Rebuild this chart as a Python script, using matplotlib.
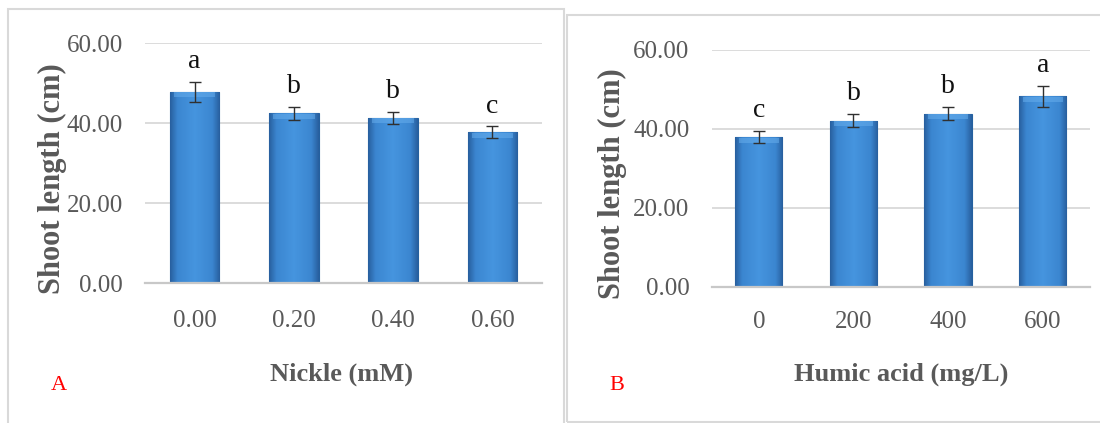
import numpy as np
import matplotlib
matplotlib.use("Agg")
import matplotlib.pyplot as plt
from matplotlib.patches import Rectangle
from matplotlib.colors import LinearSegmentedColormap

# panel A: nickel levels
nickel_labels = ["0.00", "0.20", "0.40", "0.60"]
nickel_means = [47.9, 42.5, 41.4, 37.8]
nickel_err = [2.5, 1.6, 1.5, 1.4]
nickel_letters = ["a", "b", "b", "c"]

# panel B: humic acid levels
humic_labels = ["0", "200", "400", "600"]
humic_means = [37.9, 42.1, 43.9, 48.3]
humic_err = [1.5, 1.7, 1.7, 2.7]
humic_letters = ["c", "b", "b", "a"]

W, H = 1100, 423
SERIF = ["Liberation Serif", "DejaVu Serif"]
GREY = "#595959"

bar_cmap = LinearSegmentedColormap.from_list(
    "barblue", [(0.0, "#285f9e"), (0.15, "#3b86d0"), (0.5, "#4695df"),
                (0.85, "#3b86d0"), (1.0, "#285f9e")])


def px(x, y):
    return x / W, 1 - y / H


def gradient_bars(ax, bars):
    grad = np.linspace(0, 1, 128).reshape(1, -1)
    for b in bars:
        x0, y0 = b.get_x(), b.get_y()
        w, h = b.get_width(), b.get_height()
        im = ax.imshow(grad, cmap=bar_cmap, aspect="auto",
                       extent=(x0, x0 + w, y0, y0 + h), zorder=2)
        im.set_clip_path(b)
        # lighter bevel at the top
        ax.add_patch(Rectangle((x0 + w * 0.08, y0 + h - 1.4), w * 0.84, 1.2,
                               facecolor="#66adec", edgecolor="none",
                               alpha=0.55, zorder=3))


def draw_panel(ax, labels, means, err, letters, xlabel_pad, ytick_pad):
    x = np.arange(len(labels))
    bars = ax.bar(x, means, width=0.5, color="#3b86d0", edgecolor="#24609f",
                  linewidth=0.8, zorder=2)
    gradient_bars(ax, bars)
    ax.errorbar(x, means, yerr=err, fmt="none", ecolor="#303030",
                elinewidth=1.0, capsize=4.2, capthick=1.0, zorder=4)
    for xi, m, e, let in zip(x, means, err, letters):
        ax.text(xi, m + e + 3.5, let, ha="center", va="baseline",
                fontsize=20, family=SERIF, color="#111111")

    ax.set_xlim(-0.5, len(labels) - 0.5)
    ax.set_ylim(0, 60)
    ax.set_yticks([0, 20, 40, 60])
    ax.set_yticklabels(["%.2f" % v for v in [0, 20, 40, 60]])
    ax.set_xticks(x)
    ax.set_xticklabels(labels)
    for t in ax.get_xticklabels() + ax.get_yticklabels():
        t.set_fontfamily(SERIF)
        t.set_fontsize(18)
        t.set_color(GREY)
    ax.tick_params(axis="x", length=0, pad=xlabel_pad)
    ax.tick_params(axis="y", length=0, pad=ytick_pad)
    ax.yaxis.grid(True, color="#d9d9d9", linewidth=1.3, zorder=0)
    ax.set_axisbelow(True)
    for s in ["top", "right", "left"]:
        ax.spines[s].set_visible(False)
    ax.spines["bottom"].set_color("#c8c8c8")
    ax.spines["bottom"].set_linewidth(1.6)


fig = plt.figure(figsize=(11, 4.23), dpi=100)
fig.patch.set_facecolor("white")

# panel frames
fig.patches.append(Rectangle(px(8, 430), 556 / W, 421 / H, transform=fig.transFigure,
                             fill=False, edgecolor="#d9d9d9", linewidth=1.5))
fig.patches.append(Rectangle(px(567, 422), 540 / W, 407 / H, transform=fig.transFigure,
                             fill=False, edgecolor="#d9d9d9", linewidth=1.5))

axA = fig.add_axes([145 / W, (H - 283.3) / H, 397 / W, 240 / H])
draw_panel(axA, nickel_labels, nickel_means, nickel_err, nickel_letters, 19, 16)

axB = fig.add_axes([711.5 / W, (H - 286.7) / H, 378.5 / W, 236.7 / H])
draw_panel(axB, humic_labels, humic_means, humic_err, humic_letters, 17.5, 16)

# axis titles
fig.text(*px(52, 179), "Shoot length (cm)", rotation=90, ha="center", va="center",
         fontsize=22, fontweight="bold", family=SERIF, color=GREY)
fig.text(*px(612, 184), "Shoot length (cm)", rotation=90, ha="center", va="center",
         fontsize=22, fontweight="bold", family=SERIF, color=GREY)
fig.text(*px(342, 374), "Nickle (mM)", ha="center", va="center",
         fontsize=19, fontweight="bold", family=SERIF, color=GREY)
fig.text(*px(901, 374), "Humic acid (mg/L)", ha="center", va="center",
         fontsize=19, fontweight="bold", family=SERIF, color=GREY)

# panel letters
fig.text(*px(59, 385), "A", ha="center", va="center", fontsize=16,
         family=SERIF, color="#ff0000")
fig.text(*px(617, 385), "B", ha="center", va="center", fontsize=16,
         family=SERIF, color="#ff0000")

fig.savefig("out.png", dpi=100)
